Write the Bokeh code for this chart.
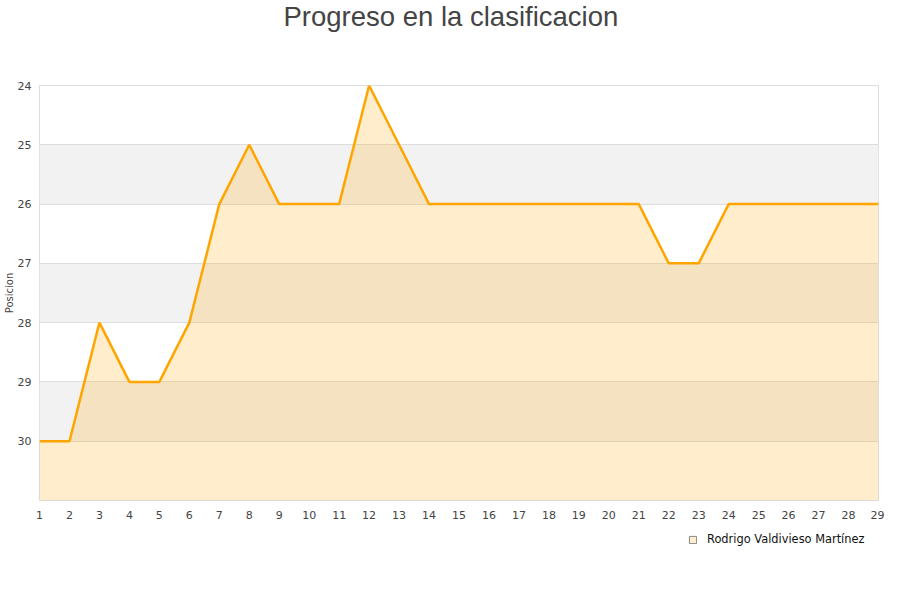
from bokeh.plotting import figure
from bokeh.layouts import column
from bokeh.models import Range1d, FixedTicker, Legend, LegendItem, ColumnDataSource, Title
from bokeh.embed import file_html
from bokeh.resources import INLINE

# jornadas y posicion del jugador
jornadas = list(range(1, 30))
posicion = [30, 30, 28, 29, 29, 28, 26, 25, 26, 26, 26, 24, 25, 26, 26,
            26, 26, 26, 26, 26, 26, 27, 27, 26, 26, 26, 26, 26, 26]
jugador = "Rodrigo Valdivieso Martínez"
y_ticks = [24, 25, 26, 27, 28, 29, 30]
bandas_inicio = [25, 27, 29]   # franjas grises alternas
y_fondo = 31

p = figure(width=884, height=525, output_backend="svg", toolbar_location=None,
           x_range=Range1d(1, 29), y_range=Range1d(y_fondo, 24),
           min_border_left=0, min_border_right=6, min_border_top=0,
           min_border_bottom=25)

p.title.text = "Progreso en la clasificacion"
p.title.align = "left"
p.title.offset = 244
p.title.vertical_align = "top"
p.title.text_font = "Liberation Sans"
p.title.text_font_size = "27.5px"
p.title.text_font_style = "normal"
p.title.text_color = "#444444"
p.title.standoff = 0
# espacio entre titulo y grafico
p.add_layout(Title(text=" ", text_font_size="10px", standoff=39), "above")

p.outline_line_color = "#dddddd"
p.xgrid.grid_line_color = None
p.ygrid.grid_line_color = "#dddddd"
p.ygrid.ticker = FixedTicker(ticks=y_ticks)

# franjas grises
p.quad(left=1, right=29, bottom=[b + 1 for b in bandas_inicio], top=bandas_inicio,
       fill_color="#f2f2f2", line_color=None, level="underlay")

src = ColumnDataSource(dict(x=jornadas, y=posicion, base=[y_fondo] * len(jornadas)))
p.varea(x="x", y1="y", y2="base", source=src, fill_color="#ffa500", fill_alpha=0.2)
p.line(x="x", y="y", source=src, line_color="#ffa500", line_width=2.5)

for ax in (p.xaxis, p.yaxis):
    ax.axis_line_color = None
    ax.major_tick_line_color = None
    ax.minor_tick_line_color = None
    ax.major_tick_out = 0
    ax.major_tick_in = 0
    ax.minor_tick_out = 0
    ax.major_label_text_font = "DejaVu Sans"
    ax.major_label_text_font_size = "11px"
    ax.major_label_text_color = "#444444"

p.xaxis.ticker = FixedTicker(ticks=jornadas)
p.xaxis.major_label_standoff = 10
p.yaxis.ticker = FixedTicker(ticks=y_ticks)
p.yaxis.major_label_standoff = 8
p.yaxis.axis_label = "Posicion"
p.yaxis.axis_label_text_font = "DejaVu Sans"
p.yaxis.axis_label_text_font_size = "10px"
p.yaxis.axis_label_text_font_style = "normal"
p.yaxis.axis_label_text_color = "#444444"
p.yaxis.axis_label_standoff = 0

# leyenda en una franja aparte debajo del grafico
pl = figure(width=884, height=59, output_backend="svg", toolbar_location=None,
            x_range=Range1d(0, 1), y_range=Range1d(0, 1), x_axis_type=None,
            y_axis_type=None, min_border=0, title_location=None)
pl.outline_line_color = None
pl.xgrid.grid_line_color = None
pl.ygrid.grid_line_color = None
muestra = pl.quad(left=[5], right=[6], bottom=[5], top=[6], fill_color="#ffeecc",
                  line_color="#888888", line_width=1)
legend = Legend(items=[LegendItem(label=jugador, renderers=[muestra])],
                location=(649, 38), background_fill_alpha=0, border_line_color=None,
                label_text_font="DejaVu Sans", label_text_font_size="11.4px",
                label_text_color="#111111", glyph_width=9, glyph_height=9,
                label_height=10, label_standoff=10, padding=0, margin=0)
pl.add_layout(legend, "center")

open("out.html", "w").write(file_html(column(p, pl, spacing=0), INLINE))
